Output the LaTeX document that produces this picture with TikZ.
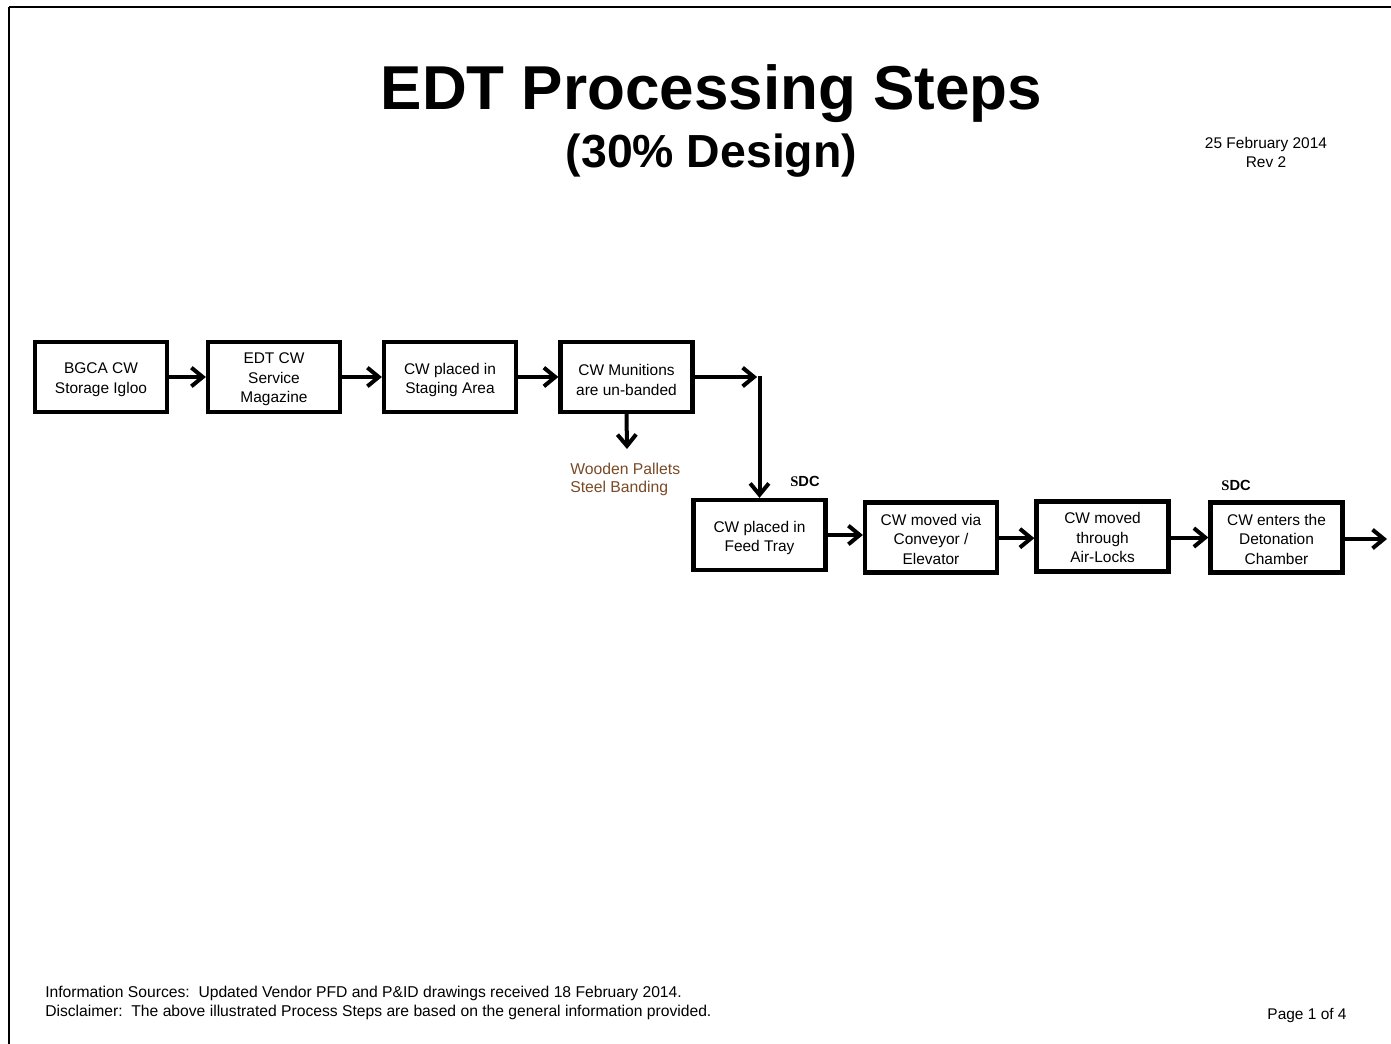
\documentclass[tikz,border=0pt]{standalone}
\usepackage{fontspec}
\setmainfont{Liberation Sans}
\newfontfamily\serifbold{Liberation Serif}
\usetikzlibrary{arrows.meta}
\definecolor{wastebrown}{RGB}{122,74,38}

% a process step: framed box with its text set slightly below centre
\newcommand\procstep[4][-2.2pt]{%
  \node[stepbox] (#2) at #3 {};
  \node[steptext] (#2-text) at ([yshift=#1]#2.center) {#4};}

\begin{document}
\begin{tikzpicture}[x=0.75pt,y=-0.75pt,
  stepbox/.style={draw,line width=3.2pt,minimum width=99pt,minimum height=52.5pt,inner sep=0pt},
  steptext/.style={inner sep=0pt,align=center,font=\fontsize{11.6}{14.6}\selectfont},
  flow/.style={line width=3pt,-{Straight Barb[length=8.5pt,width=14pt]}},
  plain/.style={font=\fontsize{11.6}{14.3}\selectfont,inner sep=0pt},
  sdc/.style={font=\fontsize{11}{13}\selectfont\bfseries,inner sep=0pt}]
\useasboundingbox (0,0) rectangle (1391,1044);
% page frame (runs off the right and bottom edges)
\draw[line width=1.5pt] (9,6.7) -- (1420,6.7);
\draw[line width=1.5pt] (9,6.7) -- (9,1070);

% headings
\node[font=\fontsize{46.5}{50}\selectfont\bfseries,inner sep=0pt,anchor=base] (title) at (711.5,110) {EDT Processing Steps};
\node[font=\fontsize{34.8}{40}\selectfont\bfseries,inner sep=0pt,anchor=base] (subtitle) at (711.5,168) {(30\% Design)};
\node[plain,align=center] (date) at (1266,152.5) {25 February 2014\\Rev 2};

% process steps
\procstep{s1}{(101,377)}{BGCA CW\\Storage Igloo}
\procstep[-1.8pt]{s2}{(274,377)}{EDT CW\\Service\\Magazine}
\procstep{s3}{(450,377)}{CW placed in\\Staging Area}
\procstep{s4}{(626.5,377)}{CW Munitions\\are un-banded}
\procstep{s5}{(759.5,535)}{CW placed in\\Feed Tray}
\procstep[-1.2pt]{s6}{(931,537.5)}{CW moved via\\Conveyor /\\Elevator}
\procstep[-1.0pt]{s7}{(1102.5,536.5)}{CW moved\\through\\Air-Locks}
\procstep[-1.2pt]{s8}{(1276.5,537.5)}{CW enters the\\Detonation\\Chamber}

% removed materials
\coordinate (waste) at (627,449);
\node[plain,align=left,anchor=west,text=wastebrown,font=\fontsize{11.8}{13.6}\selectfont] (wastetext) at (570,479.5) {Wooden Pallets\\Steel Banding};

% SDC labels
\node[sdc] (sdc1) at (805,481) {{\serifbold S}DC};
\node[sdc] (sdc2) at (1236,485) {{\serifbold S}DC};

% connectors
\draw[flow] (s1.east) -- (s2.west);
\draw[flow] (s2.east) -- (s3.west);
\draw[flow] (s3.east) -- (s4.west);
\draw[flow] (s4.south) -- (waste);
\coordinate (turn) at (s5.north |- s4.east);
\draw[flow] (s4.east) -- ([xshift=-1.8pt]turn);
\draw[flow] ([yshift=1.1pt]turn) -- (s5.north);
\draw[flow] (s5.east) -- (s5.east -| s6.west);
\draw[flow] ([yshift=-0.5pt]s6.east) -- ([yshift=-0.5pt]s6.east -| s7.west);
\draw[flow] (s7.east |- s8.west) -- (s8.west);
\coordinate (exit) at (1387,539);
\draw[flow] (s8.east |- exit) -- (exit);

% footer
\node[plain,align=left,anchor=west,font=\fontsize{11.75}{14.3}\selectfont] (notes) at (45,1003)
  {Information Sources:\ \ Updated Vendor PFD and P\&ID drawings received 18 February 2014.\\
   Disclaimer:\ \ The above illustrated Process Steps are based on the general information provided.};
\node[plain] (page) at (1307,1016) {Page 1 of 4};
\end{tikzpicture}
\end{document}
